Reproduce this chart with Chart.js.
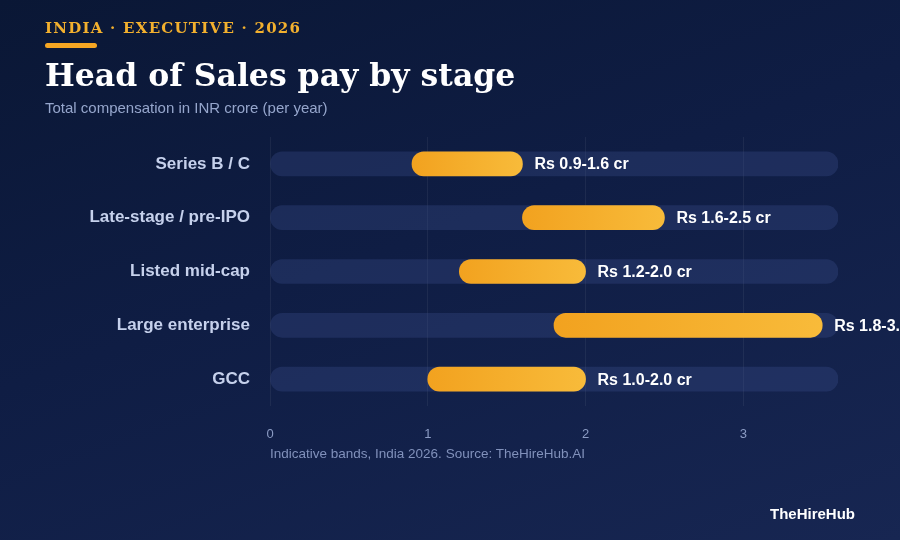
<!DOCTYPE html>
<html>
<head>
<meta charset="utf-8">
<script src="https://cdn.jsdelivr.net/npm/chart.js@4"></script>
<style>
  html,body{margin:0;padding:0;}
  body{width:900px;height:540px;overflow:hidden;position:relative;
    background:linear-gradient(160deg,#0a1735 0%,#0f1d44 45%,#172652 100%);
    font-family:"Liberation Sans",Arial,sans-serif;}
  #wrap{position:absolute;left:0;top:0;width:900px;height:540px;}
  .kicker{position:absolute;left:45px;top:19px;font-family:"DejaVu Serif",serif;font-weight:bold;
    font-size:15px;letter-spacing:1.25px;color:#f2b02e;white-space:nowrap;}
  .rule{position:absolute;left:45px;top:43px;width:52px;height:5px;border-radius:3px;background:#f5a623;}
  .title{position:absolute;left:45px;top:56px;font-family:"DejaVu Serif",serif;font-weight:bold;
    font-size:31.5px;color:#ffffff;white-space:nowrap;}
  .sub{position:absolute;left:45px;top:99px;font-size:15px;color:#96a6cc;white-space:nowrap;}
  .note{position:absolute;left:270px;top:446px;font-size:13.5px;color:#8191bb;white-space:nowrap;}
  .brand{position:absolute;right:45px;top:505px;font-size:15px;font-weight:bold;color:#ffffff;white-space:nowrap;}
</style>
</head>
<body>
<div id="wrap"><canvas id="c" width="900" height="540"></canvas></div>
<div class="kicker">INDIA · EXECUTIVE · 2026</div>
<div class="rule"></div>
<div class="title">Head of Sales pay by stage</div>
<div class="sub">Total compensation in INR crore (per year)</div>
<div class="note">Indicative bands, India 2026. Source: TheHireHub.AI</div>
<div class="brand">TheHireHub</div>
<script>
const categories = ['Series B / C', 'Late-stage / pre-IPO', 'Listed mid-cap', 'Large enterprise', 'GCC'];
const lows = [0.9, 1.6, 1.2, 1.8, 1.0];
const highs = [1.6, 2.5, 2.0, 3.5, 2.0];
const valueLabels = ['Rs 0.9-1.6 cr', 'Rs 1.6-2.5 cr', 'Rs 1.2-2.0 cr', 'Rs 1.8-3.5 cr', 'Rs 1.0-2.0 cr'];
const xTicks = [0, 1, 2, 3];
const xMax = 3.6;

const labelPlugin = {
  id: 'valueLabels',
  afterDatasetsDraw(chart) {
    const ctx = chart.ctx;
    const meta = chart.getDatasetMeta(1);
    ctx.save();
    ctx.font = 'bold 16px "Liberation Sans", Arial, sans-serif';
    ctx.fillStyle = '#ffffff';
    ctx.textBaseline = 'middle';
    ctx.textAlign = 'left';
    meta.data.forEach((bar, i) => {
      ctx.fillText(valueLabels[i], bar.x + 12, bar.y + 1);
    });
    ctx.restore();
  }
};

new Chart(document.getElementById('c'), {
  type: 'bar',
  data: {
    labels: categories,
    datasets: [
      {
        data: categories.map(() => [0, xMax]),
        backgroundColor: 'rgba(62,84,145,0.30)',
        borderRadius: 12,
        borderSkipped: false,
        barThickness: 24,
        order: 2
      },
      {
        data: lows.map((l, i) => [l, highs[i]]),
        backgroundColor: (ctx) => {
          const chart = ctx.chart;
          const x = chart.scales.x;
          if (!x || !chart.chartArea) return '#f5a623';
          const i = ctx.dataIndex;
          const x0 = x.getPixelForValue(lows[i]);
          const x1 = x.getPixelForValue(highs[i]);
          const g = chart.ctx.createLinearGradient(x0, 0, x1, 0);
          g.addColorStop(0, '#f2a21f');
          g.addColorStop(1, '#f8bb3a');
          return g;
        },
        borderRadius: 12,
        borderSkipped: false,
        barThickness: 24,
        order: 1
      }
    ]
  },
  options: {
    indexAxis: 'y',
    responsive: false,
    animation: false,
    layout: { padding: { left: 0, right: 62, top: 137, bottom: 94 } },
    plugins: { legend: { display: false }, tooltip: { enabled: false } },
    datasets: { bar: { grouped: false } },
    scales: {
      x: {
        min: 0, max: xMax,
        afterBuildTicks: (s) => { s.ticks = xTicks.map(v => ({ value: v })); },
        afterFit: (s) => { s.height = 40; },
        border: { display: false },
        grid: { color: 'rgba(255,255,255,0.06)', drawTicks: false, lineWidth: 1 },
        ticks: { color: '#8c9cc4', padding: 21, font: { size: 13, family: '"Liberation Sans", Arial, sans-serif' } }
      },
      y: {
        afterFit: (s) => { s.width = 270; },
        border: { display: false },
        grid: { display: false, drawTicks: false },
        ticks: { color: '#c6d1ec', padding: 20, font: { size: 17, weight: 'bold', family: '"Liberation Sans", Arial, sans-serif' } }
      }
    }
  },
  plugins: [labelPlugin]
});
</script>
</body>
</html>
